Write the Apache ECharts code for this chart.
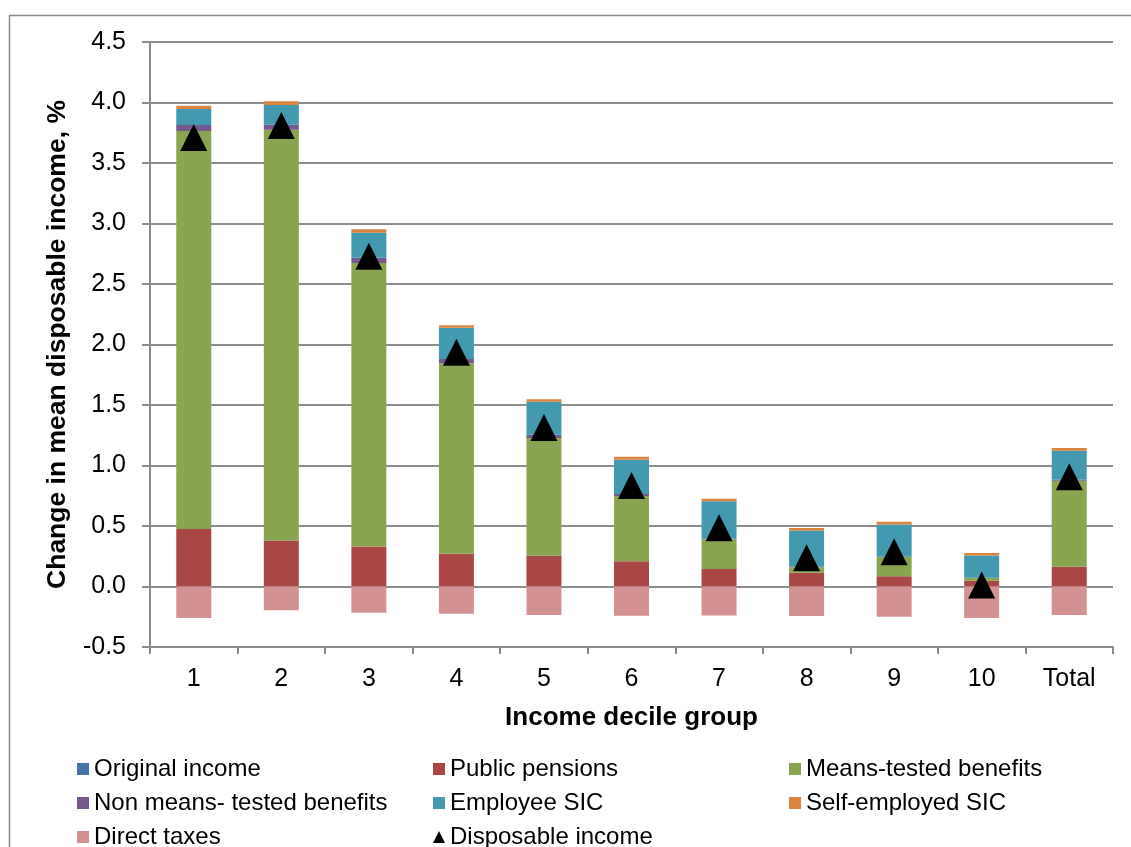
<!DOCTYPE html>
<html>
<head>
<meta charset="utf-8">
<script src="https://cdn.jsdelivr.net/npm/echarts@6/dist/echarts.min.js"></script>
<style>
html,body{margin:0;padding:0;background:#fff;}
#chart{width:1131px;height:847px;}
</style>
</head>
<body>
<div id="chart"></div>
<script>
const categories = ['1','2','3','4','5','6','7','8','9','10','Total'];
const originalIncome   = [0, 0, 0, 0, 0, 0, 0, 0, 0, 0, 0];
const publicPensions   = [0.475, 0.38, 0.33, 0.27, 0.255, 0.208, 0.145, 0.114, 0.084, 0.048, 0.164];
const meansTested      = [3.29, 3.395, 2.344, 1.575, 0.972, 0.54, 0.245, 0.046, 0.159, 0.022, 0.711];
const nonMeansTested   = [0.049, 0.042, 0.043, 0.035, 0.028, 0.017, 0.005, 0.003, 0.003, 0.002, 0.01];
const employeeSIC      = [0.132, 0.163, 0.207, 0.259, 0.272, 0.283, 0.31, 0.30, 0.267, 0.184, 0.237];
const selfEmployedSIC  = [0.028, 0.03, 0.028, 0.02, 0.02, 0.025, 0.02, 0.02, 0.023, 0.02, 0.023];
const directTaxes      = [-0.26, -0.197, -0.217, -0.225, -0.235, -0.241, -0.24, -0.243, -0.25, -0.26, -0.235];
const disposableIncome = [3.71, 3.81, 2.73, 1.935, 1.314, 0.835, 0.485, 0.238, 0.287, 0.012, 0.906];
const yTicks = { min: -0.5, max: 4.5, interval: 0.5 };

const FONT = '"Liberation Sans", Arial, sans-serif';
const chart = echarts.init(document.getElementById('chart'), null, {renderer: 'canvas'});

function bar(name, data, color) {
  return {
    name: name, type: 'bar', stack: 'total', data: data, barWidth: 35,
    itemStyle: { color: color }, emphasis: { disabled: true }
  };
}

const legendText = { fontFamily: FONT, fontSize: 24, color: '#000', lineHeight: 22 };
function legendCol(left, names) {
  return {
    orient: 'vertical', left: left, top: 757, height: 200, padding: 0, itemGap: 10,
    itemWidth: 12, itemHeight: 12, textStyle: legendText,
    data: names, selectedMode: false
  };
}

chart.setOption({
  animation: false,
  backgroundColor: '#fff',
  graphic: [{
    type: 'rect', left: 7, top: 13, z: -10,
    shape: { x: 0, y: 0, width: 1140, height: 900 },
    style: { fill: 'none', stroke: '#8a8a8a', lineWidth: 1.5 }
  }],
  grid: { left: 150, right: 18, top: 42, bottom: 200, containLabel: false },
  legend: [
    legendCol(77, [{name:'Original income', icon:'rect'}, {name:'Non means- tested benefits', icon:'rect'}, {name:'Direct taxes', icon:'rect'}]),
    legendCol(433, [{name:'Public pensions', icon:'rect'}, {name:'Employee SIC', icon:'rect'}, {name:'Disposable income', icon:'triangle'}]),
    legendCol(789, [{name:'Means-tested benefits', icon:'rect'}, {name:'Self-employed SIC', icon:'rect'}])
  ],
  xAxis: {
    type: 'category', data: categories,
    name: 'Income decile group', nameLocation: 'middle', nameGap: 58,
    nameTextStyle: { fontFamily: FONT, fontSize: 26, fontWeight: 'bold', color: '#000' },
    axisLine: { onZero: false, lineStyle: { color: '#8a8a8a', width: 2 } },
    axisTick: { show: true, length: 7, lineStyle: { color: '#8a8a8a', width: 2 } },
    axisLabel: { fontFamily: FONT, fontSize: 25, color: '#000', margin: 20 }
  },
  yAxis: {
    type: 'value', min: yTicks.min, max: yTicks.max, interval: yTicks.interval,
    name: 'Change in mean disposable income, %', nameLocation: 'middle', nameGap: 79,
    nameTextStyle: { fontFamily: FONT, fontSize: 26.5, fontWeight: 'bold', color: '#000' },
    axisLine: { show: true, lineStyle: { color: '#8a8a8a', width: 2 } },
    axisTick: { show: true, length: 8, lineStyle: { color: '#8a8a8a', width: 2 } },
    splitLine: { show: true, lineStyle: { color: '#8c8c8c', width: 2 } },
    axisLabel: { fontFamily: FONT, fontSize: 25, color: '#000', margin: 24,
      formatter: function (v) { return v.toFixed(1); } }
  },
  series: [
    bar('Original income', originalIncome, '#4673A8'),
    bar('Public pensions', publicPensions, '#A94744'),
    bar('Means-tested benefits', meansTested, '#8AA54F'),
    bar('Non means- tested benefits', nonMeansTested, '#74598F'),
    bar('Employee SIC', employeeSIC, '#4299B0'),
    bar('Self-employed SIC', selfEmployedSIC, '#DB843D'),
    bar('Direct taxes', directTaxes, '#D39291'),
    {
      name: 'Disposable income', type: 'scatter', data: disposableIncome,
      symbol: 'triangle', symbolSize: 27, z: 10,
      itemStyle: { color: '#000', opacity: 1 }, emphasis: { disabled: true }
    }
  ]
});
</script>
</body>
</html>
